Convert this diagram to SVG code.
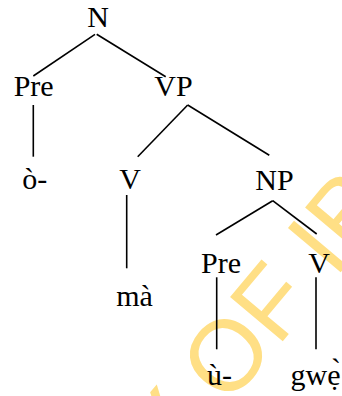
<svg xmlns="http://www.w3.org/2000/svg" width="342" height="396" viewBox="0 0 342 396">
  <style>
    .edge { stroke: #000; stroke-width: 1.6; fill: none; }
    .lbl { font-family: 'Liberation Serif', 'Times New Roman', serif; font-size: 30px; fill: #000; text-anchor: middle; }
    .wm { font-family: 'Liberation Sans', Arial, sans-serif; font-size: 100px; fill: #FFDF85; }
  </style>
  <rect width="342" height="396" fill="#fff"/>

  <!-- faint diagonal watermark behind the tree -->
  <text class="wm" transform="translate(168 478) rotate(-50)">Y OF IB</text>

  <g id="connectors">
    <line class="edge" x1="95" y1="34.3" x2="33.3" y2="76"/>
    <line class="edge" x1="96.7" y1="34.3" x2="165.7" y2="76.7"/>
    <line class="edge" x1="33.3" y1="105" x2="33.3" y2="156.7"/>
    <line class="edge" x1="187.7" y1="105" x2="137.7" y2="156.7"/>
    <line class="edge" x1="187.7" y1="105" x2="269.3" y2="155.3"/>
    <line class="edge" x1="126.7" y1="195" x2="126.7" y2="268.3"/>
    <line class="edge" x1="272.7" y1="200.7" x2="216" y2="235"/>
    <line class="edge" x1="272.7" y1="200.7" x2="316.7" y2="234"/>
    <line class="edge" x1="216.7" y1="277.3" x2="216.7" y2="349.3"/>
    <line class="edge" x1="316" y1="277.3" x2="316" y2="349.3"/>
  </g>

  <g id="n-root"><text class="lbl" x="98" y="27">N</text></g>
  <g id="n-pre1"><text class="lbl" x="33.7" y="96">Pre</text></g>
  <g id="n-vp"><text class="lbl" x="173.5" y="96">VP</text></g>
  <g id="n-o"><text class="lbl" x="34.7" y="189">ò-</text></g>
  <g id="n-v1"><text class="lbl" x="130" y="189">V</text></g>
  <g id="n-np"><text class="lbl" x="274.5" y="190">NP</text></g>
  <g id="n-ma"><text class="lbl" x="134.5" y="306">mà</text></g>
  <g id="n-pre2"><text class="lbl" x="221" y="273">Pre</text></g>
  <g id="n-v2"><text class="lbl" x="319" y="273">V</text></g>
  <g id="n-u"><text class="lbl" x="219.5" y="385">ù-</text></g>
  <g id="n-gwe"><text class="lbl" x="315.5" y="385">gwẹ̀</text></g>
</svg>
